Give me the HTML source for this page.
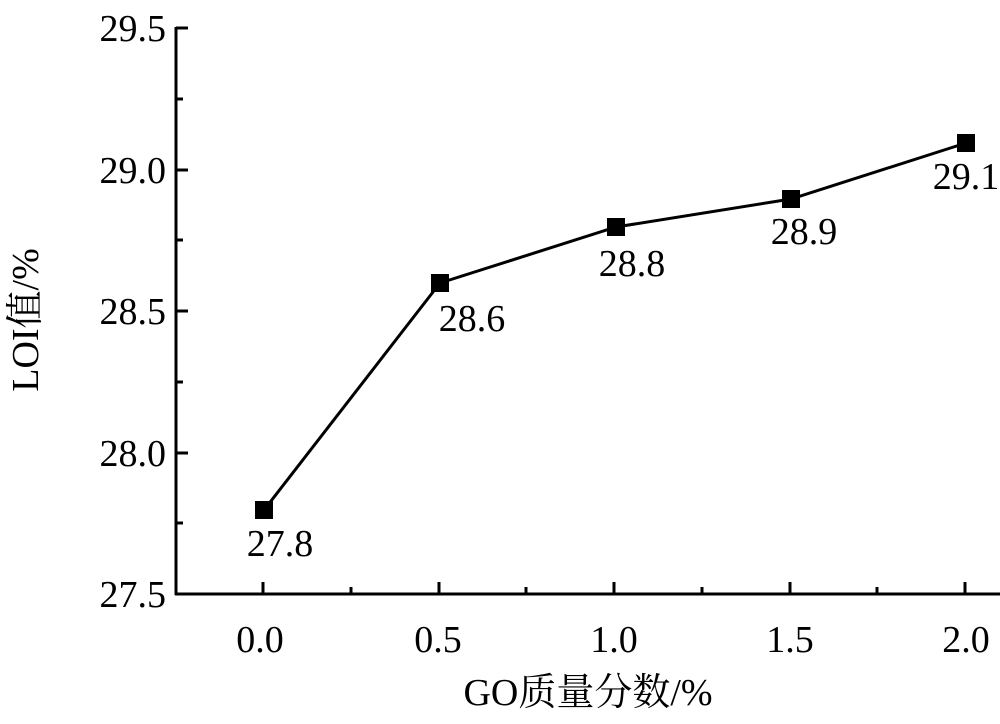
<!DOCTYPE html>
<html><head><meta charset="utf-8"><style>body{margin:0;background:#fff}</style></head><body>
<svg width="1000" height="719" xmlns="http://www.w3.org/2000/svg" font-family="Liberation Serif, Noto Serif CJK SC, serif" font-size="38">
<g stroke="#000" stroke-width="3" fill="none">
<line x1="176" y1="27" x2="176" y2="595"/>
<line x1="175" y1="594" x2="1000" y2="594"/>
<line x1="176" y1="28" x2="188" y2="28"/><line x1="176" y1="170" x2="188" y2="170"/><line x1="176" y1="311" x2="188" y2="311"/><line x1="176" y1="453" x2="188" y2="453"/>
<line x1="176" y1="99" x2="183" y2="99"/><line x1="176" y1="240" x2="183" y2="240"/><line x1="176" y1="382" x2="183" y2="382"/><line x1="176" y1="523" x2="183" y2="523"/>
<line x1="263" y1="594" x2="263" y2="582"/><line x1="439" y1="594" x2="439" y2="582"/><line x1="614" y1="594" x2="614" y2="582"/><line x1="790" y1="594" x2="790" y2="582"/><line x1="965" y1="594" x2="965" y2="582"/>
<line x1="351" y1="594" x2="351" y2="587"/><line x1="526" y1="594" x2="526" y2="587"/><line x1="702" y1="594" x2="702" y2="587"/><line x1="877" y1="594" x2="877" y2="587"/>
<polyline points="264,510 440,283 616,227 791,199 966,143"/>
</g>
<g fill="#000">
<rect x="255" y="501" width="18" height="18"/><rect x="431" y="274" width="18" height="18"/><rect x="607" y="218" width="18" height="18"/><rect x="782" y="190" width="18" height="18"/><rect x="957" y="134" width="18" height="18"/>
</g>
<g text-anchor="end">
<text x="166" y="41">29.5</text><text x="166" y="183">29.0</text><text x="166" y="324">28.5</text><text x="166" y="466">28.0</text><text x="166" y="607">27.5</text>
</g>
<g text-anchor="middle">
<text x="260" y="652">0.0</text><text x="438" y="652">0.5</text><text x="614" y="652">1.0</text><text x="790" y="652">1.5</text><text x="966" y="652">2.0</text>
<text x="280" y="556">27.8</text><text x="472" y="331">28.6</text><text x="632" y="276">28.8</text><text x="804" y="244">28.9</text><text x="966" y="189">29.1</text>
<text x="588" y="705">GO质量分数/%</text>
<text transform="translate(38,320) rotate(-90)">LOI值/%</text>
</g>
</svg>
</body></html>
